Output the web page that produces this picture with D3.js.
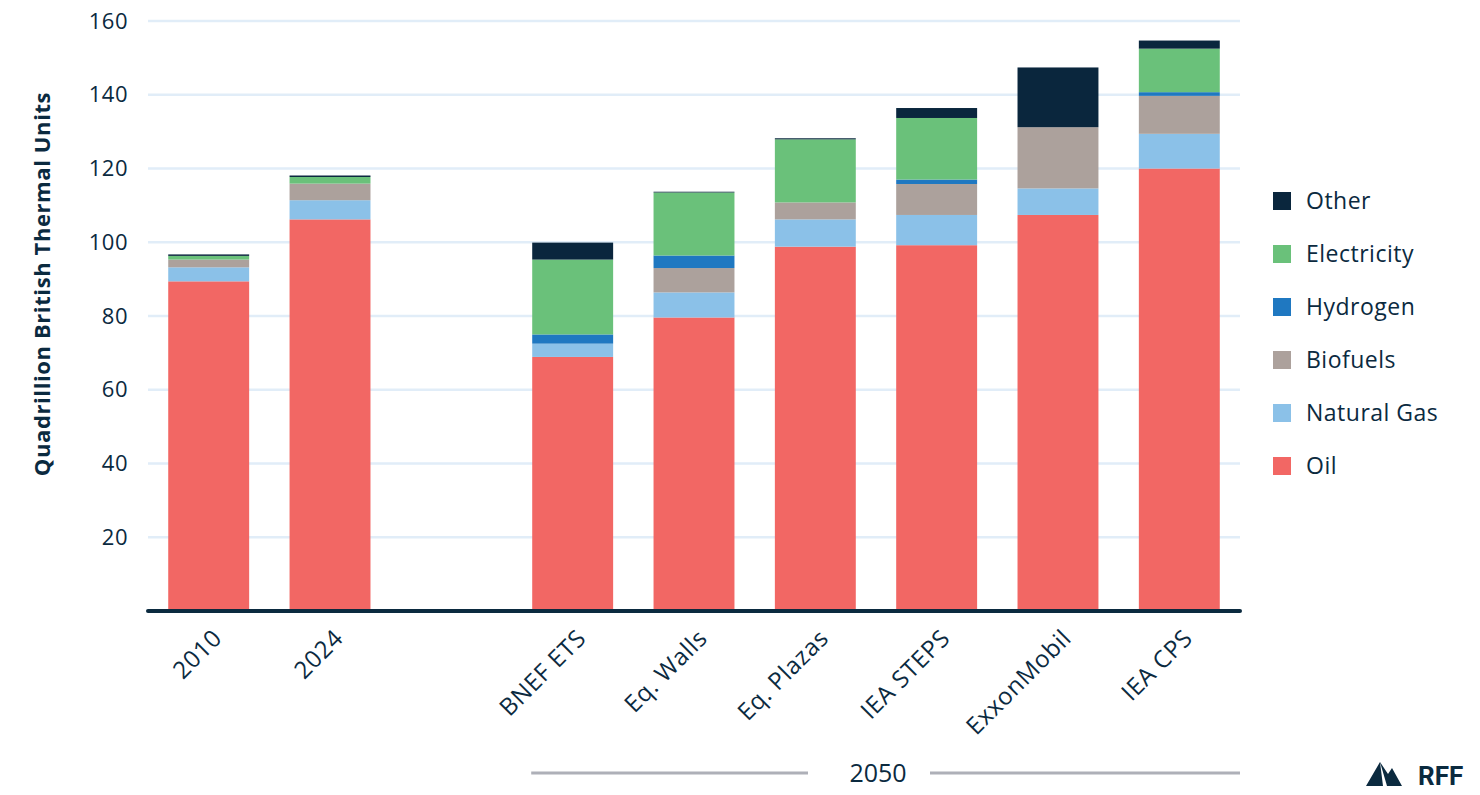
<!DOCTYPE html>
<html>
<head>
<meta charset="utf-8">
<script src="https://cdn.jsdelivr.net/npm/d3@7"></script>
<style>
  body { margin: 0; background: #fff; }
  text { font-family: "Open Sans", "Noto Sans", sans-serif; fill: #0b2a3f; }
</style>
</head>
<body>
<svg id="viz" width="1480" height="795"></svg>
<script>
// categories on the x axis (a gap sits between 2024 and the 2050 scenarios)
var categories = ["2010", "2024", "BNEF ETS", "Eq. Walls", "Eq. Plazas", "IEA STEPS", "ExxonMobil", "IEA CPS"];

// quadrillion Btu
var oil         = [89.4, 106.2, 68.9, 79.6, 98.8, 99.2, 107.4, 120.0];
var naturalGas  = [3.8, 5.2, 3.6, 6.8, 7.4, 8.2, 7.2, 9.4];
var biofuels    = [2.1, 4.5, 0, 6.6, 4.6, 8.4, 16.6, 10.3];
var hydrogen    = [0, 0, 2.5, 3.4, 0, 1.2, 0, 1.0];
var electricity = [1.0, 1.8, 20.3, 17.1, 17.1, 16.7, 0, 11.8];
var other       = [0.4, 0.4, 4.6, 0.2, 0.3, 2.7, 16.2, 2.2];

var seriesNames = ["Oil", "Natural Gas", "Biofuels", "Hydrogen", "Electricity", "Other"];
var yTicks = [20, 40, 60, 80, 100, 120, 140, 160];
var groupLabel = "2050";

var colors = {
    "Oil": "#f26764",
    "Natural Gas": "#8bc1e8",
    "Biofuels": "#aca19c",
    "Hydrogen": "#1f78c1",
    "Electricity": "#6ac17a",
    "Other": "#0a263d"
};

function draw() {
    var svg = d3.select("#viz");
    var left = 148, right = 1240, plotTop = 21, plotBottom = 611;
    var font = "'Open Sans', 'Noto Sans', sans-serif";

    // build rows for d3.stack
    var seriesValues = [oil, naturalGas, biofuels, hydrogen, electricity, other];
    var rows = categories.map(function (c, i) {
        var r = { category: c };
        seriesNames.forEach(function (s, j) { r[s] = seriesValues[j][i]; });
        return r;
    });

    var slots = categories.slice(0, 2).concat(["_gap"], categories.slice(2));

    var x = d3.scaleBand()
        .domain(slots)
        .range([left, right])
        .paddingInner(0.333)
        .paddingOuter(0.1667);

    var y = d3.scaleLinear()
        .domain([0, 160])
        .range([plotBottom, plotTop]);

    // gridlines
    svg.append("g")
        .selectAll("line")
        .data(yTicks)
        .enter()
        .append("line")
        .attr("x1", left)
        .attr("x2", right)
        .attr("y1", function (d) { return y(d); })
        .attr("y2", function (d) { return y(d); })
        .style("stroke", "#e1edf8")
        .style("stroke-width", "2.5px");

    // y axis labels
    var yAxis = svg.append("g")
        .attr("transform", "translate(" + (left - 20) + ",0)")
        .call(d3.axisLeft(y).tickValues(yTicks).tickSize(0).tickPadding(0));
    yAxis.select(".domain").remove();
    yAxis.selectAll("text")
        .style("font-size", "22px")
        .style("letter-spacing", "0.5px")
        .style("font-family", font)
        .style("fill", "#0b2a3f");

    svg.append("text")
        .attr("transform", "translate(50,284) rotate(-90)")
        .style("text-anchor", "middle")
        .style("font-size", "22px")
        .style("letter-spacing", "0.6px")
        .style("font-weight", "bold")
        .text("Quadrillion British Thermal Units");

    // stacked bars
    var stacked = d3.stack().keys(seriesNames)(rows);

    svg.append("g")
        .selectAll("g")
        .data(stacked)
        .enter()
        .append("g")
        .style("fill", function (d) { return colors[d.key]; })
        .selectAll("rect")
        .data(function (d) { return d; })
        .enter()
        .append("rect")
        .attr("x", function (d) { return x(d.data.category); })
        .attr("width", x.bandwidth())
        .attr("y", function (d) { return y(d[1]); })
        .attr("height", function (d) { return y(d[0]) - y(d[1]); });

    // baseline
    svg.append("line")
        .attr("x1", left)
        .attr("x2", right)
        .attr("y1", plotBottom)
        .attr("y2", plotBottom)
        .style("stroke", "#0b2a3f")
        .style("stroke-width", "4px")
        .style("stroke-linecap", "round");

    // x labels, rotated
    var xAxis = svg.append("g")
        .attr("transform", "translate(0," + plotBottom + ")")
        .call(d3.axisBottom(x).tickValues(categories).tickSize(0).tickPadding(0));
    xAxis.select(".domain").remove();
    xAxis.selectAll("text")
        .attr("transform", "translate(2,16) rotate(-45)")
        .attr("dy", "0.75em")
        .style("text-anchor", "end")
        .style("font-size", "24px")
        .style("letter-spacing", "0.6px")
        .style("font-family", font)
        .style("fill", "#0b2a3f");

    // 2050 bracket
    var gStart = x("BNEF ETS") - 1, gEnd = right;
    var gMid = 878, gY = 773;
    svg.append("line")
        .attr("x1", gStart).attr("x2", gMid - 70)
        .attr("y1", gY).attr("y2", gY)
        .style("stroke", "#aeb0b8").style("stroke-width", "3px");
    svg.append("line")
        .attr("x1", gMid + 52).attr("x2", gEnd)
        .attr("y1", gY).attr("y2", gY)
        .style("stroke", "#aeb0b8").style("stroke-width", "3px");
    svg.append("text")
        .attr("x", gMid)
        .attr("y", gY + 9)
        .style("text-anchor", "middle")
        .style("font-size", "25px")
        .text(groupLabel);

    // legend
    var legend = svg.append("g")
        .selectAll("g")
        .data(seriesNames.slice().reverse())
        .enter()
        .append("g")
        .attr("transform", function (d, i) { return "translate(1273," + (201 + i * 53) + ")"; });
    legend.append("rect")
        .attr("x", 0).attr("y", -9)
        .attr("width", 18).attr("height", 18)
        .style("fill", function (d) { return colors[d]; });
    legend.append("text")
        .attr("x", 33)
        .attr("y", 0)
        .attr("dy", "0.36em")
        .style("font-size", "23px")
        .style("letter-spacing", "0.5px")
        .text(function (d) { return d; });

    // RFF mark
    var logo = svg.append("g").attr("transform", "translate(1366,760)");
    logo.append("path")
        .attr("d", "M0,26 L14,2 L22,14 L26,8 L36,26 Z")
        .style("fill", "#0b2a3f");
    logo.append("path")
        .attr("d", "M14,2 L21,26 L17,26 Z")
        .style("fill", "#ffffff");
    logo.append("text")
        .attr("x", 52)
        .attr("y", 25)
        .style("font-size", "26px")
        .style("font-weight", "bold")
        .style("font-family", "'Roboto', 'Liberation Sans', sans-serif")
        .text("RFF");
}

draw();
</script>
</body>
</html>
